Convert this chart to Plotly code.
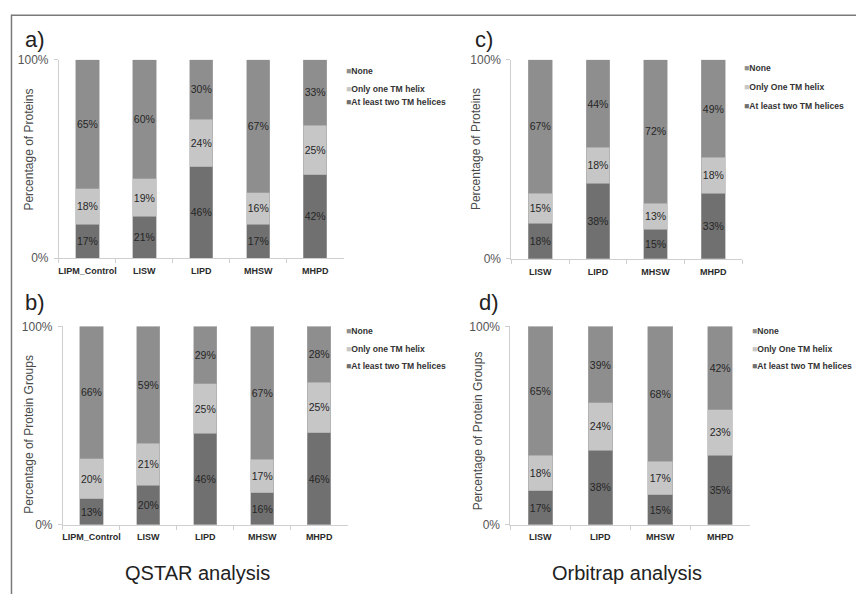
import plotly.graph_objects as go

W, H = 856, 601

# ---------------- data ----------------
qstar_cats = ["LIPM_Control", "LISW", "LIPD", "MHSW", "MHPD"]
orbi_cats = ["LISW", "LIPD", "MHSW", "MHPD"]

qstar_series = ["None", "Only one TM helix", "At least two TM helices"]
orbi_series = ["None", "Only One TM helix", "At least two TM helices"]

# a) QSTAR, proteins
a_two = [17, 21, 46, 17, 42]
a_one = [18, 19, 24, 16, 25]
a_none = [65, 60, 30, 67, 33]
# b) QSTAR, protein groups
b_two = [13, 20, 46, 16, 46]
b_one = [20, 21, 25, 17, 25]
b_none = [66, 59, 29, 67, 28]
# c) Orbitrap, proteins
c_two = [18, 38, 15, 33]
c_one = [15, 18, 13, 18]
c_none = [67, 44, 72, 49]
# d) Orbitrap, protein groups
d_two = [17, 38, 15, 35]
d_one = [18, 24, 17, 23]
d_none = [65, 39, 68, 42]

y_ticks = [0, 100]
y_ticktext = ["0%", "100%"]

# ---------------- styles ----------------
COL_NONE = "#8e8e8e"
COL_ONE = "#c6c6c6"
COL_TWO = "#707070"
colors = [COL_NONE, COL_ONE, COL_TWO]
FONT = "Liberation Sans, Arial, sans-serif"

def px_x(x):
    return x / W

def px_y(y):
    return 1 - y / H

panels = [
    dict(k="a", cats=qstar_cats, data=(a_two, a_one, a_none), names=qstar_series,
         xd=(58, 343), yd=(54, 257), letter=(22, 33), yt="Percentage of Proteins", ytp=(28, 146),
         leg=(343, [66, 84, 97])),
    dict(k="b", cats=qstar_cats, data=(b_two, b_one, b_none), names=qstar_series,
         xd=(62, 347), yd=(327, 530), letter=(22, 303), yt="Percentage of Protein Groups", ytp=(28, 437),
         leg=(343, [332, 350, 368])),
    dict(k="c", cats=orbi_cats, data=(c_two, c_one, c_none), names=orbi_series,
         xd=(511, 742), yd=(54, 258), letter=(473, 33), yt="Percentage of Proteins", ytp=(475, 145),
         leg=(742, [62, 82, 101])),
    dict(k="d", cats=orbi_cats, data=(d_two, d_one, d_none), names=orbi_series,
         xd=(510, 750), yd=(327, 530), letter=(477, 303), yt="Percentage of Protein Groups", ytp=(477, 434),
         leg=(750, [332, 350, 368])),
]

fig = go.Figure()
annotations = []
layout_axes = {}

for i, p in enumerate(panels):
    idx = "" if i == 0 else str(i + 1)
    xa, ya = "x" + idx, "y" + idx
    two, one, none = p["data"]
    for vals, name, col in [(two, p["names"][2], COL_TWO), (one, p["names"][1], COL_ONE), (none, p["names"][0], COL_NONE)]:
        fig.add_trace(go.Bar(
            x=p["cats"], y=vals, name=name, xaxis=xa, yaxis=ya,
            marker=dict(color=col, line=dict(color="#a9a9a9", width=0.6)),
            width=0.41,
            text=[f"{v}%" for v in vals], textposition="inside", insidetextanchor="middle",
            textangle=0, textfont=dict(family=FONT, size=10.5, color="#262626"),
            showlegend=False, hoverinfo="skip",
        ))
    layout_axes["xaxis" + idx] = dict(
        domain=[px_x(p["xd"][0]), px_x(p["xd"][1])], anchor=ya,
        type="category", range=[-0.5, len(p["cats"]) - 0.5],
        showline=True, linecolor="#cfcfcf", linewidth=1,
        ticks="outside", tickson="boundaries", ticklen=4, tickcolor="#cfcfcf",
        tickangle=0,
        tickfont=dict(family=FONT, size=9, color="#2a2a2a", weight="bold"),
        ticklabelstandoff=4, showgrid=False, zeroline=False, fixedrange=True,
    )
    layout_axes["yaxis" + idx] = dict(
        domain=[px_y(p["yd"][1]), px_y(p["yd"][0])], anchor=xa,
        range=[0, 100], tickvals=y_ticks, ticktext=y_ticktext,
        showline=True, linecolor="#cfcfcf", linewidth=1,
        ticks="outside", ticklen=4, tickcolor="#cfcfcf",
        tickfont=dict(family=FONT, size=12, color="#555555"),
        ticklabelstandoff=3, showgrid=False, zeroline=False, fixedrange=True,
    )
    annotations.append(dict(text=p["k"] + ")", x=px_x(p["letter"][0]), y=px_y(p["letter"][1]),
                            xref="paper", yref="paper", xanchor="left", yanchor="middle",
                            showarrow=False, font=dict(family=FONT, size=22, color="#222222")))
    annotations.append(dict(text=p["yt"], x=px_x(p["ytp"][0]), y=px_y(p["ytp"][1]),
                            xref="paper", yref="paper", xanchor="center", yanchor="middle",
                            textangle=-90, showarrow=False,
                            font=dict(family=FONT, size=12, color="#4a4a4a")))
    lx, lys = p["leg"]
    for name, col, ly in zip(p["names"], colors, lys):
        annotations.append(dict(
            text=f'<span style="color:{col}">■</span>{name}',
            x=px_x(lx), y=px_y(ly), xref="paper", yref="paper",
            xanchor="left", yanchor="middle", showarrow=False,
            font=dict(family=FONT, size=8.6, color="#333333", weight="bold")))

annotations.append(dict(text="QSTAR analysis", x=px_x(197), y=px_y(580), xref="paper", yref="paper",
                        xanchor="center", yanchor="middle", showarrow=False,
                        font=dict(family=FONT, size=20, color="#222222")))
annotations.append(dict(text="Orbitrap analysis", x=px_x(627), y=px_y(580), xref="paper", yref="paper",
                        xanchor="center", yanchor="middle", showarrow=False,
                        font=dict(family=FONT, size=20, color="#222222")))

shapes = [
    dict(type="line", xref="paper", yref="paper", x0=px_x(10), x1=1, y0=px_y(8.5), y1=px_y(8.5),
         line=dict(color="#7a7a7a", width=1.5)),
    dict(type="line", xref="paper", yref="paper", x0=px_x(10.5), x1=px_x(10.5), y0=px_y(8), y1=0,
         line=dict(color="#7a7a7a", width=1.5)),
]

fig.update_layout(
    width=W, height=H, margin=dict(l=0, r=0, t=0, b=0),
    paper_bgcolor="white", plot_bgcolor="white",
    barmode="stack", barnorm="percent",
    uniformtext=dict(minsize=10, mode="show"),
    annotations=annotations, shapes=shapes, showlegend=False,
    **layout_axes,
)

fig.write_html(
    "out.html",
    config={"displayModeBar": False},
    post_script="document.body.style.margin='0';document.body.style.overflow='hidden';",
)
